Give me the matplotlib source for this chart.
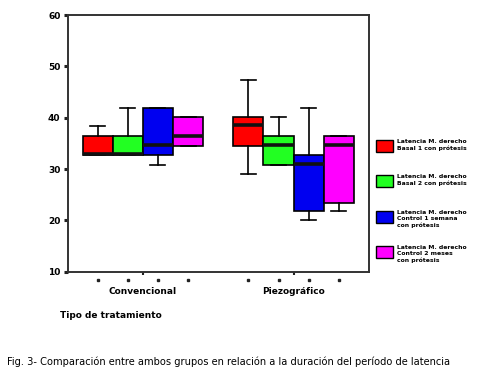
import matplotlib
matplotlib.use("Agg")
import matplotlib.pyplot as plt
from matplotlib.patches import Rectangle
import matplotlib.transforms as mtransforms

grupos = ["Convencional", "Piezográfico"]
series = ["Latencia M. derecho\nBasal 1 con prótesis",
          "Latencia M. derecho\nBasal 2 con prótesis",
          "Latencia M. derecho\nControl 1 semana\ncon prótesis",
          "Latencia M. derecho\nControl 2 meses\ncon prótesis"]
colores = ["#ff0000", "#22ff22", "#0000f0", "#ff00ff"]

# estadisticos, por grupo y serie
whislo = [[32.7, 32.7, 30.8, 34.5], [29.0, 30.8, 20.1, 21.8]]
q1 = [[32.7, 32.7, 32.7, 34.5], [34.5, 30.8, 21.8, 23.5]]
med = [[33.0, 33.0, 34.7, 36.5], [38.5, 34.7, 31.0, 34.7]]
q3 = [[36.4, 36.4, 41.9, 40.1], [40.1, 36.4, 32.7, 36.4]]
whishi = [[38.4, 41.9, 41.9, 40.1], [47.3, 40.2, 41.9, 36.4]]

fig = plt.figure(figsize=(5, 3.76), dpi=100)
ax = fig.add_axes([0.135, 0.277, 0.603, 0.683])

ancho = 0.2
desp = [-0.3, -0.1, 0.1, 0.3]
centros = [0.5, 1.5]
posiciones = []
for g in range(len(grupos)):
    for s in range(len(series)):
        pos = centros[g] + desp[s]
        posiciones.append(pos)
        st = dict(whislo=whislo[g][s], q1=q1[g][s], med=med[g][s],
                  q3=q3[g][s], whishi=whishi[g][s], fliers=[])
        ax.bxp([st], positions=[pos], widths=ancho, patch_artist=True,
               showfliers=False, manage_ticks=False,
               boxprops=dict(facecolor=colores[s], edgecolor="black", linewidth=1.2),
               medianprops=dict(color="#111111", linewidth=2.6, solid_capstyle="butt"),
               whiskerprops=dict(color="black", linewidth=1.2),
               capprops=dict(color="black", linewidth=1.2))

ax.set_xlim(0, 2)
ax.set_ylim(10, 60)
ax.set_yticks([10, 20, 30, 40, 50, 60])
ax.tick_params(axis="y", length=3, width=2.2, color="#222222", pad=2,
               labelsize=6.5)
for lab in ax.get_yticklabels():
    lab.set_fontweight("bold")
ax.set_xticks(centros)
ax.set_xticklabels(grupos, fontsize=6.5, fontweight="bold")
ax.tick_params(axis="x", length=2, width=1.5, color="#222222", pad=9)
for sp in ax.spines.values():
    sp.set_linewidth(1.4)
    sp.set_color("#333333")

# puntitos bajo el eje en cada caja
trans = mtransforms.blended_transform_factory(ax.transData, ax.transAxes)
ax.plot(posiciones, [-0.03] * len(posiciones), "s", color="#222222",
        markersize=1.8, transform=trans, clip_on=False)

fig.text(0.12, 0.162, "Tipo de tratamiento", fontsize=6.5, fontweight="bold",
         ha="left", va="center")

# leyenda a mano: cuadro de color + texto
W, H = 500.0, 376.0
tops = [140, 175, 211, 246]
for s in range(len(series)):
    y0 = tops[s]
    fig.add_artist(Rectangle((376 / W, 1 - (y0 + 12) / H), 17 / W, 12 / H,
                             transform=fig.transFigure, facecolor=colores[s],
                             edgecolor="black", linewidth=1.0))
    fig.text(397 / W, 1 - (y0 - 1) / H, series[s], fontsize=4.4,
             fontweight="bold", ha="left", va="top", linespacing=1.25)

fig.text(0.014, 0.038,
         "Fig. 3- Comparación entre ambos grupos en relación a la duración del período de latencia",
         fontsize=7.1, ha="left", va="center")

fig.savefig("out.png", dpi=100, facecolor="white")
